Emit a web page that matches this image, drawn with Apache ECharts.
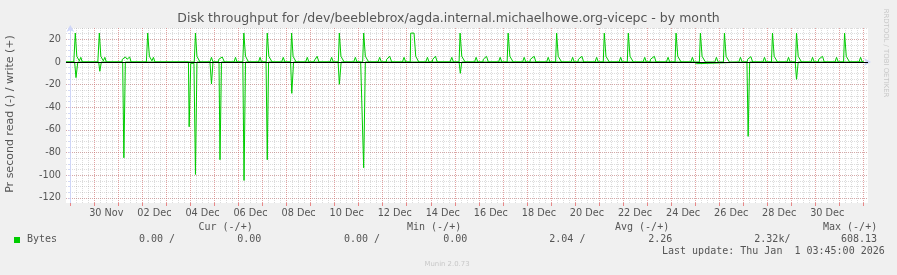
<!DOCTYPE html>
<html>
<head>
<meta charset="utf-8">
<script src="https://cdn.jsdelivr.net/npm/echarts@6/dist/echarts.min.js"></script>
<style>
html,body{margin:0;padding:0;background:#f0f0f0;}
#chart{width:897px;height:275px;}
</style>
</head>
<body>
<div id="chart"></div>
<script>
// ---- data (x = hours since 29 Nov 00:00, y = bytes/s; read is negative) ----
const writeData = [
[-4.3,0],
[3.5,0],[5,25.5],[6.5,5],[8,5],[9,1],[10.5,4.1],[12,0],
[27.5,0],[29,25.5],[30.5,5],[32,5],[33,1],[34.5,4.1],[36,0],
[51.5,0],[52,2.4],[55,4.4],[56.7,2.4],[59.3,4.4],[60.7,0],
[76,0],[77.3,25.5],[79,5],[80.5,5],[81.5,1],[83,4.1],[84.5,0],
[123.8,0],[125,25.5],[126.5,5],[128,5],[129.5,0],
[139.5,0],[141,4.1],[142.5,0],
[148,0],[148.3,2.4],[151.7,4.4],[154,0],
[163.5,0],[165,4.1],[166.5,0],
[172.3,0],[173.3,25.5],[175,5],[176.5,5],[178,0],
[188,0],[189.5,4.1],[191,0],
[195.7,0],[196.7,25.5],[198.3,5],[200,5],[201.5,0],
[211,0],[212.7,4.1],[214.3,0],
[220,0],[221,25.5],[222.5,5],[224,5],[225.5,0],
[235,0],[236.7,4.1],[238.3,0],
[243,0],[244.5,2.4],[246.5,5],[248.3,0],
[259.3,0],[261,4.1],[262.7,0],
[267.7,0],[268.7,25.5],[270.3,5],[272,5],[273.5,0],
[283,0],[284.7,4.1],[286.3,0],
[292,0],[293,25.5],[294.7,5],[296.3,5],[298,0],
[307.3,0],[309,4.1],[310.7,0],
[315.5,0],[316,2.4],[319,5],[321,0],
[331.7,0],[333.3,4.1],[335,0],
[339.5,0],[340,25.5],[343.3,25.5],[345,5],[346.5,5],[348,0],
[355,0],[356.7,4.1],[358.3,0],
[361.5,0],[362,2.4],[364.7,5],[366.5,0],
[379.3,0],[381,4.1],[382.7,0],
[388.3,0],[389.3,25.5],[391,5],[392.7,5],[394.3,0],
[403.7,0],[405.3,4.1],[407,0],
[412,0],[412.5,2.4],[415.7,5],[417.5,0],
[427.7,0],[429.3,4.1],[431,0],
[436.3,0],[437.3,25.5],[439,5],[440.7,5],[442.3,0],
[451.7,0],[453.3,4.1],[455,0],
[459,0],[459.5,2.4],[463.3,5],[465,0],
[475.7,0],[477.3,4.1],[479,0],
[484.7,0],[485.7,25.5],[487.3,5],[489,5],[490.7,0],
[500,0],[501.7,4.1],[503.3,0],
[507,0],[507.5,2.4],[511,5],[512.7,0],
[524,0],[525.7,4.1],[527.3,0],
[532.3,0],[533.3,25.5],[535,5],[536.7,5],[538.3,0],
[548,0],[549.7,4.1],[551.3,0],
[556.3,0],[557.3,25.5],[559,5],[560.7,5],[562.3,0],
[572,0],[573.7,4.1],[575.3,0],
[579,0],[579.5,2.4],[583.3,5],[585,0],
[595.3,0],[597,4.1],[598.7,0],
[604,0],[605,25.5],[606.7,5],[608.3,5],[610,0],
[619.7,0],[621.3,4.1],[623,0],
[628.3,0],[629.3,25.5],[631,5],[632.7,5],[634.3,0],
[643.7,0],[645.3,4.1],[647,0],
[652.3,0],[653.3,25.5],[655,5],[656.7,5],[658.3,0],
[667.7,0],[669.3,4.1],[671,0],
[676,0],[676.5,2.4],[679.7,4.7],[681.5,0],
[691.7,0],[693.3,4.1],[695,0],
[700.3,0],[701.3,25.5],[703,5],[704.7,5],[706.3,0],
[715.7,0],[717.3,4.1],[719,0],
[724.3,0],[725.3,25.5],[727,5],[728.7,5],[730.3,0],
[739.7,0],[741.3,4.1],[743,0],
[747,0],[747.5,2.4],[751.3,5],[753,0],
[763.7,0],[765.3,4.1],[767,0],
[772.3,0],[773.3,25.5],[775,5],[776.7,5],[778.3,0],
[787.7,0],[789.3,4.1],[791,0],[792.5,0]
];
const readData = [
[-4.3,0],
[4.3,0],[5.7,-13.8],[7.5,0],
[28.3,0],[29.5,-8.2],[31,0],
[52.3,0],[53.5,-84.6],[55,0],
[118,0],[118.7,-57.2],[120,-57.2],[120.3,-1.2],[123.5,-1.2],[125,-99.3],[126.5,0],
[139.5,0],[141,-19.4],[142.5,0],
[148.5,0],[149.5,-86.3],[151,0],
[172.3,0],[173.5,-104.6],[175,0],
[195.5,0],[196.7,-86.3],[198,0],
[220,0],[221.2,-27.7],[223,0],
[267.5,0],[268.7,-19.7],[270.5,0],
[290,0],[290.5,-1.2],[291.5,-1.2],[293,-93.4],[294.7,0],
[388.3,0],[389.5,-10],[391,0],
[622.5,0],[624,-1.5],[625.5,-1.5],[626.5,0],
[675.8,0],[677,-65.7],[678.5,0],
[724,0],[725.3,-15.3],[727,0],
[792.5,0]
];
const xLabelHours = [36,84,132,180,228,276,324,372,420,468,516,564,612,660,708,756];
const xLabels = ['30 Nov','02 Dec','04 Dec','06 Dec','08 Dec','10 Dec','12 Dec','14 Dec','16 Dec','18 Dec','20 Dec','22 Dec','24 Dec','26 Dec','28 Dec','30 Dec'];
const yTicks = [-120,-100,-80,-60,-40,-20,0,20];
const legendHeaders = ['Cur (-/+)','Min (-/+)','Avg (-/+)','Max (-/+)'];
const legendValues = ['0.00 /','0.00','0.00 /','0.00','2.04 /','2.26','2.32k/','608.13'];
const seriesName = 'Bytes';
const titleText = 'Disk throughput for /dev/beeblebrox/agda.internal.michaelhowe.org-vicepc - by month';
const yTitle = 'Pr second read (-) / write (+)';
const lastUpdate = 'Last update: Thu Jan  1 03:45:00 2026';

// ---- layout / style ----
const xMin = -4.3, xMax = 796.7, yMin = -124.5, yMax = 30;
const minorX = [], majorX = [], minorY = [];
for (let h = 0; h <= xMax; h += 6) minorX.push(h);
for (let h = 0; h <= xMax; h += 24) majorX.push(h);
for (let v = -120; v <= 30; v += 5) minorY.push(v);

const GREEN = '#00cc00', AXIS = '#CFD6F8', TXT = '#555555';
const minorLine = {color: 'rgba(140,140,140,0.3)', width: 1, type: [1, 1]};
const majorLine = {color: 'rgba(230,90,90,0.45)', width: 1, type: [1, 1]};
const MONO = '"DejaVu Sans Mono", monospace';
const SANS = '"DejaVu Sans", sans-serif';

const hidden = {axisLine: {show: false}, axisLabel: {show: false}};
const base = {type: 'value', gridIndex: 0};

const chart = echarts.init(document.getElementById('chart'), null, {renderer: 'canvas'});

const graphics = [
  {type: 'text', x: 448.5, y: 19, style: {text: titleText, font: '12.5px ' + SANS, fill: TXT, align: 'center', verticalAlign: 'middle'}},
  {type: 'text', x: 10, y: 114, rotation: Math.PI / 2, style: {text: yTitle, font: '11px ' + SANS, fill: TXT, align: 'center', verticalAlign: 'middle'}},
  {type: 'text', x: 886, y: 53, rotation: -Math.PI / 2, style: {text: 'RRDTOOL / TOBI OETIKER', font: '6.9px ' + SANS, fill: '#c8c8c8', align: 'center', verticalAlign: 'middle'}},
  {type: 'rect', shape: {x: 14, y: 237, width: 6, height: 6}, style: {fill: GREEN}},
  {type: 'text', x: 27, y: 239.5, style: {text: seriesName, font: '10px ' + MONO, fill: TXT, align: 'left', verticalAlign: 'middle'}},
  {type: 'text', x: 662, y: 251.5, style: {text: lastUpdate, font: '10px ' + MONO, fill: TXT, align: 'left', verticalAlign: 'middle'}},
  {type: 'text', x: 447, y: 264, style: {text: 'Munin 2.0.73', font: '6.9px ' + SANS, fill: '#c8c8c8', align: 'center', verticalAlign: 'middle'}}
];
const headerX = [198.5, 407, 615, 823];
legendHeaders.forEach((t, i) => graphics.push({type: 'text', x: headerX[i], y: 227.5, style: {text: t, font: '10px ' + MONO, fill: TXT, align: 'left', verticalAlign: 'middle'}}));
const valueX = [139, 237.3, 344, 443.3, 549.3, 648.3, 754.3, 841];
legendValues.forEach((t, i) => graphics.push({type: 'text', x: valueX[i], y: 239.5, style: {text: t, font: '10px ' + MONO, fill: TXT, align: 'left', verticalAlign: 'middle'}}));

chart.setOption({
  animation: false,
  backgroundColor: '#f0f0f0',
  grid: {left: 66, top: 28, width: 802, height: 175, show: true, backgroundColor: '#ffffff', borderWidth: 0},
  xAxis: [
    Object.assign({}, base, {min: xMin, max: xMax, position: 'bottom',
      axisLine: {show: true, lineStyle: {color: AXIS, width: 1}, symbol: ['none', 'arrow'], symbolSize: [6, 7], symbolOffset: [0, 3]},
      axisTick: {show: false}, axisLabel: {show: false}, splitLine: {show: false}}),
    Object.assign({}, base, hidden, {min: xMin, max: xMax, position: 'bottom',
      axisTick: {show: false, customValues: minorX}, splitLine: {show: true, lineStyle: minorLine}}),
    Object.assign({}, base, hidden, {min: xMin, max: xMax, position: 'bottom',
      axisTick: {show: true, inside: false, length: 3, customValues: majorX, lineStyle: {color: 'rgba(230,90,90,0.7)'}},
      splitLine: {show: true, lineStyle: majorLine}}),
    Object.assign({}, base, {min: xMin, max: xMax, position: 'bottom', axisLine: {show: false},
      axisTick: {show: false, customValues: xLabelHours}, splitLine: {show: false},
      axisLabel: {show: true, customValues: xLabelHours, margin: 5, color: TXT, fontFamily: SANS, fontSize: 9.7,
        formatter: v => { const i = xLabelHours.indexOf(Math.round(v)); return i >= 0 ? xLabels[i] : ''; }}})
  ],
  yAxis: [
    Object.assign({}, base, {min: yMin, max: yMax, position: 'left',
      axisLine: {show: true, lineStyle: {color: AXIS, width: 1}, symbol: ['none', 'arrow'], symbolSize: [6, 7], symbolOffset: [0, 3]},
      axisTick: {show: true, inside: false, length: 2, customValues: yTicks, lineStyle: {color: 'rgba(230,90,90,0.7)'}},
      axisLabel: {show: true, customValues: yTicks, margin: 5, color: TXT, fontFamily: SANS, fontSize: 9.7},
      splitLine: {show: true, lineStyle: majorLine}}),
    Object.assign({}, base, hidden, {min: yMin, max: yMax, position: 'left',
      axisTick: {show: true, inside: false, length: 2, customValues: minorY, lineStyle: {color: AXIS}},
      splitLine: {show: true, lineStyle: minorLine}})
  ],
  series: [
    {type: 'line', name: seriesName, xAxisIndex: 0, yAxisIndex: 0, data: writeData, showSymbol: false, symbol: 'none',
      lineStyle: {color: GREEN, width: 1}, itemStyle: {color: GREEN}, z: 3},
    {type: 'line', name: seriesName, xAxisIndex: 0, yAxisIndex: 0, data: readData, showSymbol: false, symbol: 'none',
      lineStyle: {color: GREEN, width: 1}, itemStyle: {color: GREEN}, z: 3,
      markLine: {silent: true, symbol: ['none', 'none'], label: {show: false}, animation: false,
        lineStyle: {color: '#000000', width: 1, type: 'solid'}, data: [{yAxis: 0}]}}
  ],
  graphic: graphics
});
</script>
</body>
</html>
